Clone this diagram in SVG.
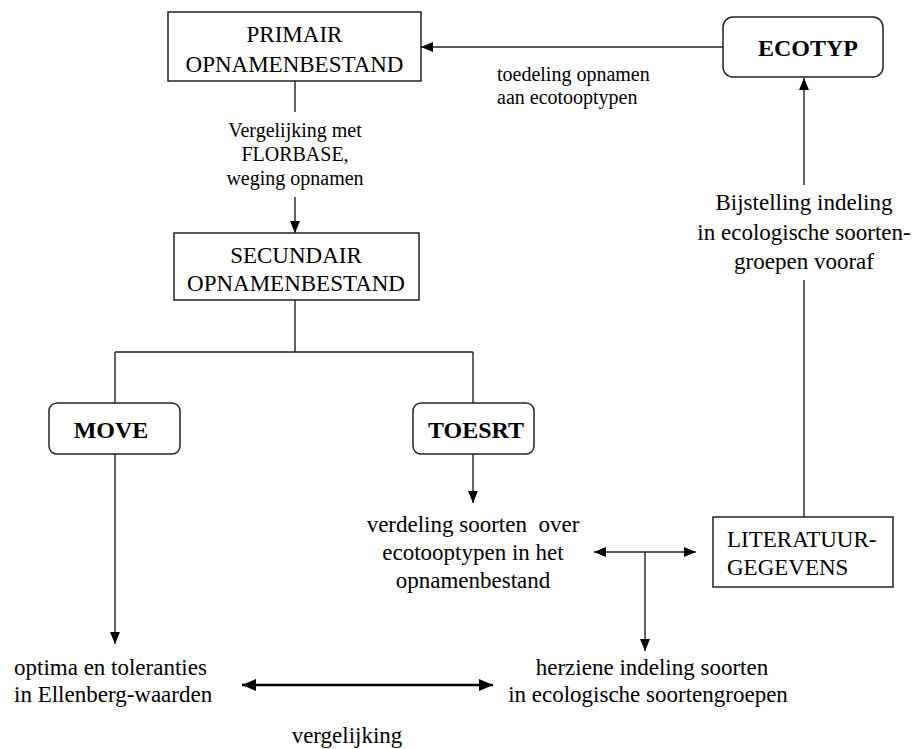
<svg xmlns="http://www.w3.org/2000/svg" width="914" height="749" viewBox="0 0 914 749">
  <style>
    .box { fill: #ffffff; stroke: #222222; stroke-width: 1.5; }
    .ln { fill: none; stroke: #222222; stroke-width: 1.4; }
    .thick { fill: none; stroke: #000000; stroke-width: 2.6; }
    text { font-family: "Liberation Serif", "Times New Roman", serif; fill: #000000; white-space: pre; }
    .t { font-size: 23px; }
    .s { font-size: 20px; }
    .b { font-size: 24px; font-weight: bold; }
    .m { text-anchor: middle; }
  </style>
  <defs>
    <marker id="arr" markerUnits="userSpaceOnUse" markerWidth="12" markerHeight="10" refX="12" refY="5" orient="auto-start-reverse">
      <path d="M0,0 L12,5 L0,10 Z" fill="#000000"/>
    </marker>
    <marker id="arrBig" markerUnits="userSpaceOnUse" markerWidth="14" markerHeight="12" refX="14" refY="6" orient="auto-start-reverse">
      <path d="M0,0 L14,6 L0,12 Z" fill="#000000"/>
    </marker>
  </defs>

  <g id="connectors">
    <path class="ln" d="M295,81 V112"/>
    <path class="ln" d="M295,197 V233" marker-end="url(#arr)"/>
    <path class="ln" d="M295,300 V352 M115,352 H473 M115,352 V403 M473,352 V403"/>
    <path class="ln" d="M115,454 V644" marker-end="url(#arr)"/>
    <path class="ln" d="M473,454 V503" marker-end="url(#arr)"/>
    <path class="ln" d="M594,552 H696" marker-start="url(#arr)" marker-end="url(#arr)"/>
    <path class="ln" d="M645,552 V651" marker-end="url(#arr)"/>
    <path class="ln" d="M804,517 V280"/>
    <path class="ln" d="M804,185 V78" marker-end="url(#arr)"/>
    <path class="ln" d="M723,47 H421" marker-end="url(#arr)"/>
    <path class="thick" d="M242,685 H493" marker-start="url(#arrBig)" marker-end="url(#arrBig)"/>
  </g>

  <g id="primair">
    <rect class="box" x="168" y="12" width="253" height="69"/>
    <text class="t m" x="294.5" y="42">PRIMAIR</text>
    <text class="t m" x="294.5" y="72">OPNAMENBESTAND</text>
  </g>

  <g id="label-vergelijking-florbase">
    <text class="s m" x="295" y="137">Vergelijking met</text>
    <text class="s m" x="295" y="161">FLORBASE,</text>
    <text class="s m" x="295" y="185">weging opnamen</text>
  </g>

  <g id="secundair">
    <rect class="box" x="174" y="233" width="245" height="67"/>
    <text class="t m" x="296" y="263">SECUNDAIR</text>
    <text class="t m" x="296" y="291">OPNAMENBESTAND</text>
  </g>

  <g id="ecotyp">
    <rect class="box" x="723" y="17" width="160" height="60" rx="10" ry="10"/>
    <text class="b m" x="808" y="56">ECOTYP</text>
  </g>

  <g id="label-toedeling">
    <text class="s" x="497" y="81">toedeling opnamen</text>
    <text class="s" x="497" y="104">aan ecotooptypen</text>
  </g>

  <g id="label-bijstelling">
    <text class="t m" x="804" y="210">Bijstelling indeling</text>
    <text class="t m" x="804" y="240">in ecologische soorten-</text>
    <text class="t m" x="804" y="269">groepen vooraf</text>
  </g>

  <g id="move">
    <rect class="box" x="49" y="403" width="131" height="51" rx="8" ry="8"/>
    <text class="b m" x="111" y="438">MOVE</text>
  </g>

  <g id="toesrt">
    <rect class="box" x="413" y="403" width="121" height="51" rx="8" ry="8"/>
    <text class="b m" x="476" y="438">TOESRT</text>
  </g>

  <g id="verdeling">
    <text class="t m" x="473" y="532">verdeling soorten  over</text>
    <text class="t m" x="473" y="560">ecotooptypen in het</text>
    <text class="t m" x="473" y="588">opnamenbestand</text>
  </g>

  <g id="literatuur">
    <rect class="box" x="713" y="517" width="180" height="70"/>
    <text class="t" x="727" y="547">LITERATUUR-</text>
    <text class="t" x="727" y="575">GEGEVENS</text>
  </g>

  <g id="optima">
    <text class="t" x="14" y="675">optima en toleranties</text>
    <text class="t" x="14" y="702">in Ellenberg-waarden</text>
  </g>

  <g id="herziene">
    <text class="t m" x="652" y="675">herziene indeling soorten</text>
    <text class="t m" x="648" y="702">in ecologische soortengroepen</text>
  </g>

  <g id="label-vergelijking">
    <text class="t m" x="347" y="743">vergelijking</text>
  </g>
</svg>
